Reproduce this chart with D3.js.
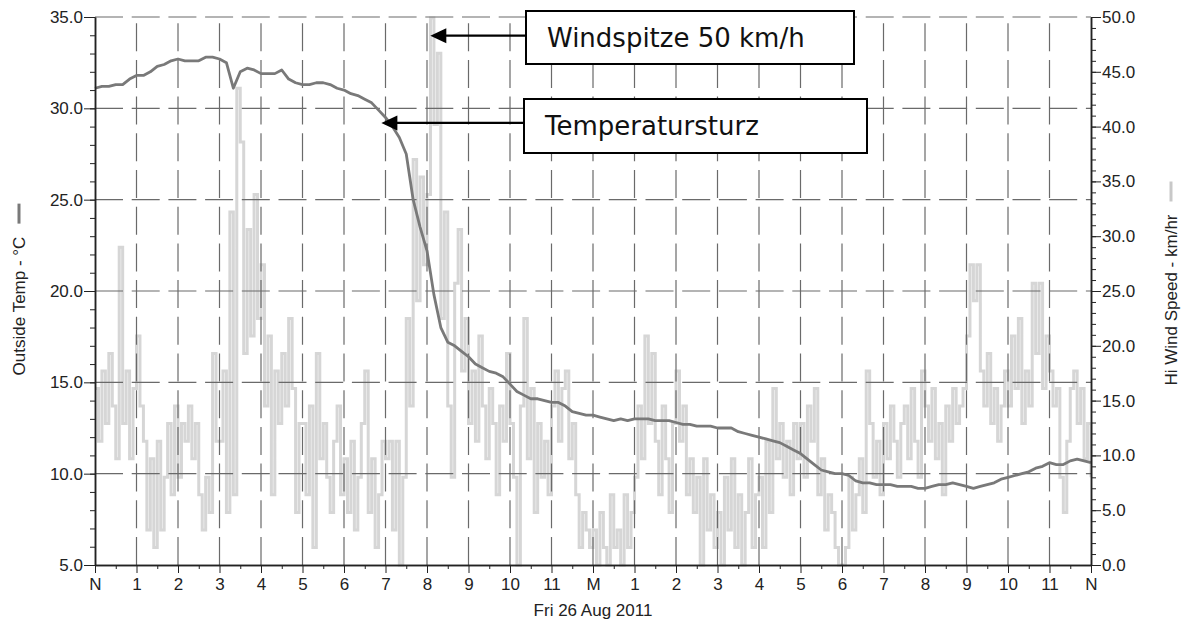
<!DOCTYPE html>
<html>
<head>
<meta charset="utf-8">
<script src="https://cdn.jsdelivr.net/npm/d3@7"></script>
<style>
body { margin: 0; background: #fff; }
svg { display: block; font-family: "Liberation Sans", Arial, sans-serif; }
.tick text { font-size: 17px; fill: #222; }
.ann text { font-family: "DejaVu Sans", Verdana, sans-serif; font-size: 26px; fill: #111; }
</style>
</head>
<body>
<svg id="chart" width="1181" height="625"></svg>
<script>
const svg = d3.select("#chart");

// hour labels along the time axis (noon = N, midnight = M)
const hourLabels = ["N","1","2","3","4","5","6","7","8","9","10","11","M","1","2","3","4","5","6","7","8","9","10","11","N"];
const dateLabel = "Fri 26 Aug 2011";
const tempTicks = [5, 10, 15, 20, 25, 30, 35];
const windTicks = [0, 5, 10, 15, 20, 25, 30, 35, 40, 45, 50];

// outside temp, degC, one value every 10 min
const outsideTemp = [
  31.1, 31.2, 31.2, 31.3, 31.3, 31.6,
  31.8, 31.8, 32.0, 32.3, 32.4, 32.6,
  32.7, 32.6, 32.6, 32.6, 32.8, 32.8,
  32.7, 32.5, 31.1, 32.0, 32.2, 32.1,
  31.9, 31.9, 31.9, 32.1, 31.6, 31.4,
  31.3, 31.3, 31.4, 31.4, 31.3, 31.1,
  31.0, 30.8, 30.7, 30.5, 30.3, 29.9,
  29.5, 29.0, 28.4, 27.5, 25.0, 23.5,
  22.2, 19.8, 18.0, 17.2, 17.0, 16.7,
  16.4, 16.0, 15.8, 15.6, 15.5, 15.3,
  14.9, 14.5, 14.3, 14.1, 14.1, 14.0,
  13.9, 13.9, 13.7, 13.4, 13.3, 13.2,
  13.2, 13.1, 13.0, 12.9, 13.0, 12.9,
  13.0, 13.0, 13.0, 12.9, 12.9, 12.9,
  12.8, 12.7, 12.7, 12.6, 12.6, 12.6,
  12.5, 12.5, 12.5, 12.3, 12.2, 12.1,
  12.0, 11.9, 11.8, 11.7, 11.5, 11.3,
  11.1, 10.8, 10.5, 10.2, 10.1, 10.0,
  10.0, 9.9, 9.6, 9.5, 9.5, 9.4,
  9.4, 9.4, 9.3, 9.3, 9.3, 9.2,
  9.2, 9.3, 9.4, 9.4, 9.5, 9.4,
  9.3, 9.2, 9.3, 9.4, 9.5, 9.7,
  9.8, 9.9, 10.0, 10.1, 10.3, 10.4,
  10.6, 10.5, 10.5, 10.7, 10.8, 10.7,
  10.6
];

// hi wind speed, km/hr, one value every 5 min
const windSpeed = [
  16.1, 11.3, 17.7, 12.9, 19.3, 14.5, 9.7, 29.0, 12.9, 17.7, 9.7, 16.1,
  20.9, 14.5, 11.3, 3.2, 9.7, 1.6, 11.3, 3.2, 8.0, 12.9, 6.4, 14.5,
  8.0, 12.9, 11.3, 14.5, 9.7, 12.9, 6.4, 3.2, 8.0, 4.8, 19.3, 11.3,
  11.3, 17.7, 4.8, 32.2, 6.4, 43.5, 38.6, 19.3, 30.6, 20.9, 33.8, 22.5,
  27.4, 14.5, 20.9, 6.4, 17.7, 12.9, 19.3, 14.5, 22.5, 16.1, 4.8, 12.9,
  12.9, 6.4, 14.5, 1.6, 19.3, 9.7, 12.9, 8.0, 4.8, 11.3, 14.5, 6.4,
  9.7, 4.8, 11.3, 3.2, 8.0, 12.9, 17.7, 4.8, 9.7, 1.6, 6.4, 11.3,
  9.7, 11.3, 3.2, 11.3, 0.0, 8.0, 22.5, 14.5, 37.0, 24.1, 35.4, 27.4,
  33.8, 49.9, 40.2, 46.7, 22.5, 32.2, 14.5, 8.0, 25.7, 30.6, 17.7, 22.5,
  12.9, 17.7, 11.3, 20.9, 14.5, 9.7, 16.1, 12.9, 6.4, 14.5, 11.3, 19.3,
  12.9, 8.0, 0.0, 14.5, 22.5, 9.7, 16.1, 4.8, 12.9, 8.0, 11.3, 6.4,
  14.5, 17.7, 11.3, 16.1, 17.7, 9.7, 12.9, 6.4, 1.6, 4.8, 3.2, 1.6,
  3.2, 0.0, 4.8, 1.6, 0.0, 6.4, 1.6, 3.2, 0.0, 6.4, 1.6, 4.8,
  8.0, 14.5, 9.7, 20.9, 12.9, 19.3, 11.3, 6.4, 14.5, 9.7, 4.8, 12.9,
  17.7, 11.3, 14.5, 6.4, 9.7, 4.8, 8.0, 0.0, 9.7, 3.2, 6.4, 1.6,
  4.8, 0.0, 8.0, 3.2, 9.7, 1.6, 6.4, 0.0, 4.8, 9.7, 1.6, 6.4,
  8.0, 1.6, 11.3, 4.8, 16.1, 9.7, 12.9, 8.0, 11.3, 6.4, 12.9, 9.7,
  12.9, 8.0, 14.5, 11.3, 16.1, 6.4, 9.7, 3.2, 6.4, 4.8, 1.6, 0.0,
  0.0, 1.6, 8.0, 3.2, 6.4, 9.7, 4.8, 17.7, 12.9, 8.0, 11.3, 6.4,
  12.9, 9.7, 14.5, 11.3, 8.0, 12.9, 14.5, 9.7, 16.1, 11.3, 8.0, 17.7,
  14.5, 11.3, 16.1, 9.7, 12.9, 6.4, 14.5, 11.3, 16.1, 12.9, 14.5, 16.1,
  20.9, 27.4, 24.1, 27.4, 17.7, 14.5, 19.3, 12.9, 16.1, 11.3, 14.5, 17.7,
  14.5, 20.9, 16.1, 22.5, 12.9, 17.7, 14.5, 25.7, 19.3, 25.7, 16.1, 20.9,
  17.7, 14.5, 16.1, 8.0, 4.8, 11.3, 16.1, 17.7, 12.9, 16.1, 9.7, 12.9,
  8.0
];

const PLOT = { left: 95, right: 1091, top: 17, bottom: 565 };
const colors = { temp: "#797979", wind: "#d6d6d6", grid: "#6a6a6a", axis: "#222" };

const x = d3.scaleLinear().domain([0, 24]).range([PLOT.left, PLOT.right]);
const yT = d3.scaleLinear().domain([5, 35]).range([PLOT.bottom, PLOT.top]);
const yW = d3.scaleLinear().domain([0, 50]).range([PLOT.bottom, PLOT.top]);

// wind first (stepped, like the logger trace), grid over it, temp on top
const windLine = d3.line().curve(d3.curveStepAfter).x((d, i) => x(i / 12)).y(d => yW(d));
svg.append("path").datum(windSpeed)
  .attr("d", windLine).attr("fill", "none")
  .attr("stroke", colors.wind).attr("stroke-width", 3);

const grid = svg.append("g").attr("stroke", colors.grid).attr("stroke-width", 1.2).attr("stroke-dasharray", "28,8.7");
grid.selectAll(".gh").data(tempTicks.filter(t => t > 5)).join("line")
  .attr("x1", PLOT.left).attr("x2", PLOT.right)
  .attr("y1", d => yT(d)).attr("y2", d => yT(d));
grid.selectAll(".gv").data(d3.range(1, 24)).join("line")
  .attr("x1", d => x(d)).attr("x2", d => x(d))
  .attr("y1", PLOT.bottom).attr("y2", PLOT.top);

const tempLine = d3.line().x((d, i) => x(i / 6)).y(d => yT(d));
svg.append("path").datum(outsideTemp)
  .attr("d", tempLine).attr("fill", "none")
  .attr("stroke", colors.temp).attr("stroke-width", 2.8).attr("stroke-linejoin", "round");

// axes
function styleAxis(sel) {
  sel.selectAll("path.domain").attr("stroke", colors.axis).attr("stroke-width", 1.5);
  sel.selectAll(".tick line").attr("stroke", colors.axis).attr("stroke-width", 1);
  sel.selectAll(".tick text").attr("font-family", null).attr("font-size", null);
}
const noLabel = () => "";

svg.append("g").attr("transform", `translate(${PLOT.left},0)`)
  .call(d3.axisLeft(yT).tickValues(d3.range(5, 35.01, 1)).tickSize(5).tickSizeOuter(0).tickFormat(noLabel)).call(styleAxis);
svg.append("g").attr("transform", `translate(${PLOT.left},0)`)
  .call(d3.axisLeft(yT).tickValues(tempTicks).tickSize(11).tickSizeOuter(0).tickPadding(1).tickFormat(d3.format(".1f"))).call(styleAxis);

svg.append("g").attr("transform", `translate(${PLOT.right},0)`)
  .call(d3.axisRight(yW).tickValues(d3.range(0, 50.01, 1)).tickSize(5).tickSizeOuter(0).tickFormat(noLabel)).call(styleAxis);
svg.append("g").attr("transform", `translate(${PLOT.right},0)`)
  .call(d3.axisRight(yW).tickValues(windTicks).tickSize(10).tickSizeOuter(0).tickPadding(1).tickFormat(d3.format(".1f"))).call(styleAxis);

svg.append("g").attr("transform", `translate(0,${PLOT.bottom})`)
  .call(d3.axisBottom(x).tickValues(d3.range(0.5, 24, 1)).tickSize(4).tickSizeOuter(0).tickFormat(noLabel)).call(styleAxis);
svg.append("g").attr("transform", `translate(0,${PLOT.bottom})`)
  .call(d3.axisBottom(x).tickValues(d3.range(0, 25)).tickSize(8).tickSizeOuter(0).tickPadding(5).tickFormat(i => hourLabels[i])).call(styleAxis);

svg.append("text").attr("x", (PLOT.left + PLOT.right) / 2).attr("y", 616)
  .attr("text-anchor", "middle").attr("font-size", 17).attr("fill", "#222").text(dateLabel);

// rotated axis titles with their legend stroke
function axisTitle(tx, cy, label, color) {
  const t = svg.append("text").attr("transform", `translate(${tx},${cy}) rotate(-90)`)
    .attr("text-anchor", "middle").attr("font-size", 17).attr("fill", "#222").text(label);
  const len = t.node().getComputedTextLength();
  const top = cy - len / 2;
  svg.append("line").attr("x1", tx - 6).attr("x2", tx - 6)
    .attr("y1", top - 13).attr("y2", top - 33)
    .attr("stroke", color).attr("stroke-width", 3);
}
axisTitle(25, 306, "Outside Temp - \u00B0C", colors.temp);
axisTitle(1177, 300, "Hi Wind Speed - km/hr", "#c8c8c8");

// annotation boxes with arrows
const notes = [
  { label: "Windspitze 50 km/h", box: [526, 11, 328, 53], hour: 8.08, y: yW(48.3) },
  { label: "Temperatursturz", box: [524, 99, 343, 54], hour: 6.9, y: yT(29.2) }
];
const ann = svg.append("g").attr("class", "ann");
notes.forEach(n => {
  const [bx, by, bw, bh] = n.box;
  const tipX = x(n.hour), tipY = n.y;
  ann.append("line").attr("x1", bx).attr("x2", tipX + 14).attr("y1", tipY).attr("y2", tipY)
    .attr("stroke", "#000").attr("stroke-width", 2.2);
  ann.append("path").attr("d", `M${tipX},${tipY} L${tipX + 16},${tipY - 7.5} L${tipX + 16},${tipY + 7.5}Z`).attr("fill", "#000");
  ann.append("rect").attr("x", bx).attr("y", by).attr("width", bw).attr("height", bh)
    .attr("fill", "#fff").attr("stroke", "#000").attr("stroke-width", 2);
  ann.append("text").attr("x", bx + 21).attr("y", by + bh / 2 + 9).text(n.label);
});
</script>
</body>
</html>
